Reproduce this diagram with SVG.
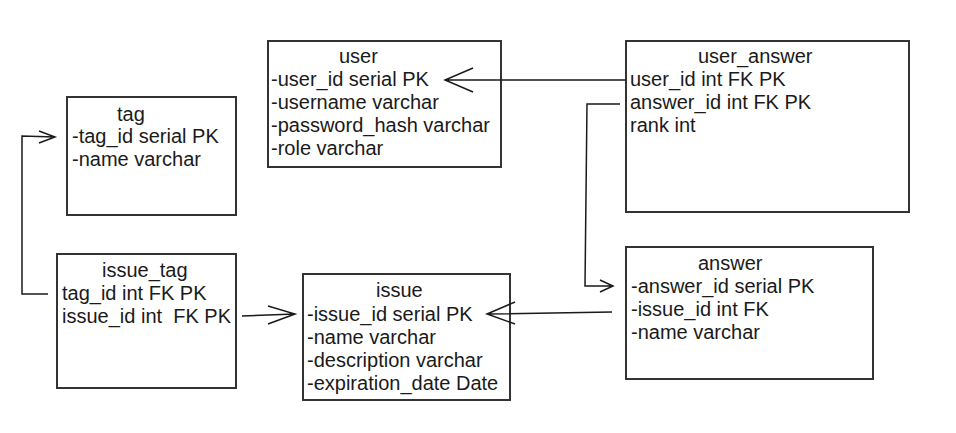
<svg xmlns="http://www.w3.org/2000/svg" width="956" height="433" viewBox="0 0 956 433">
<style>
.box{fill:#fff;stroke:#333;stroke-width:2}
text{font-family:"Liberation Sans",Arial,sans-serif;font-size:20px;fill:#1a1a1a}
.c{fill:none;stroke:#1a1a1a;stroke-width:1.5}
</style>
<rect width="956" height="433" fill="#fff"/>
<g id="tag">
<rect class="box" x="67" y="97" width="169" height="118"/>
<text x="117" y="121">tag</text>
<text x="72" y="143">-tag_id serial PK</text>
<text x="72" y="166">-name varchar</text>
</g>
<g id="user">
<rect class="box" x="268" y="41" width="233" height="126"/>
<text x="339" y="63">user</text>
<text x="271" y="86">-user_id serial PK</text>
<text x="271" y="109">-username varchar</text>
<text x="271" y="132">-password_hash varchar</text>
<text x="271" y="155">-role varchar</text>
</g>
<g id="user_answer">
<rect class="box" x="626" y="41" width="283" height="171"/>
<text x="698" y="63">user_answer</text>
<text x="630" y="86">user_id int FK PK</text>
<text x="630" y="109">answer_id int FK PK</text>
<text x="630" y="132">rank int</text>
</g>
<g id="issue_tag">
<rect class="box" x="57" y="254" width="179" height="134"/>
<text x="102" y="277">issue_tag</text>
<text x="62" y="300">tag_id int FK PK</text>
<text x="62" y="323" xml:space="preserve">issue_id int  FK PK</text>
</g>
<g id="issue">
<rect class="box" x="303" y="274" width="207" height="126"/>
<text x="376" y="297">issue</text>
<text x="307" y="321">-issue_id serial PK</text>
<text x="307" y="344">-name varchar</text>
<text x="307" y="367">-description varchar</text>
<text x="307" y="390">-expiration_date Date</text>
</g>
<g id="answer">
<rect class="box" x="626" y="247" width="247" height="132"/>
<text x="698" y="270">answer</text>
<text x="631" y="293">-answer_id serial PK</text>
<text x="631" y="316">-issue_id int FK</text>
<text x="631" y="339">-name varchar</text>
</g>
<g id="connectors">
<path class="c" d="M626,80 L445,80 M473,68 L445,80 L473,92"/>
<path class="c" d="M620,104 L587,104 L585,286 L613,286 M600,280 L613,286 L600,292"/>
<path class="c" d="M612,312 L487,314 M515,302 L487,314 L515,324"/>
<path class="c" d="M242,316 L295,314 M268,306 L295,314 L268,324"/>
<path class="c" d="M48,294 L22,294 L22,136 L55,137 M39,131 L55,137 L39,143"/>
</g>
</svg>
